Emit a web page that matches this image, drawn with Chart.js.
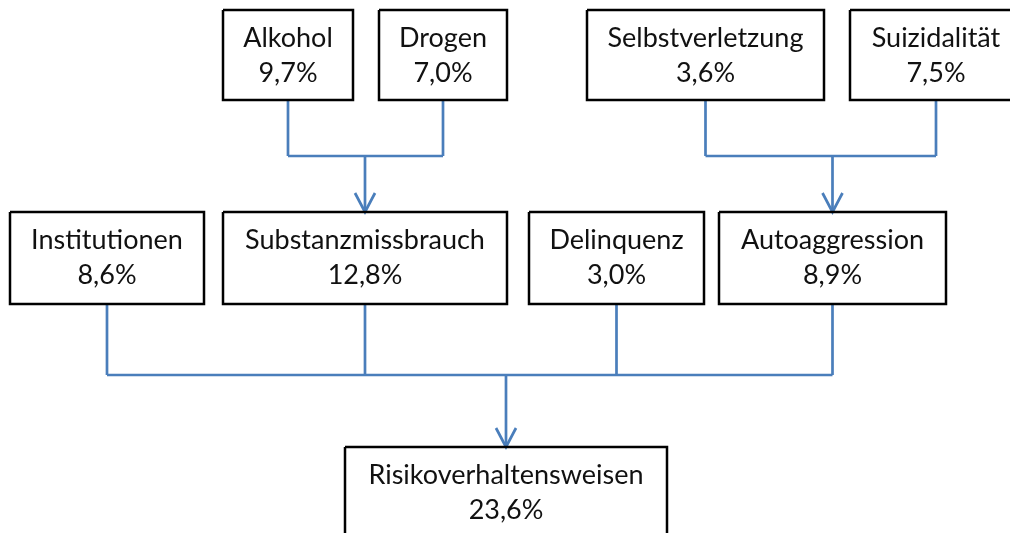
<!DOCTYPE html>
<html><head><meta charset="utf-8">
<script src="https://cdn.jsdelivr.net/npm/chart.js@4/dist/chart.umd.min.js"></script>
<style>html,body{margin:0;padding:0;background:#fff;}canvas{display:block;}</style>
</head><body>
<canvas id="c" width="1010" height="533"></canvas>
<script>
// ---- data ----
const names = ['Alkohol','Drogen','Selbstverletzung','Suizidalität','Institutionen','Substanzmissbrauch','Delinquenz','Autoaggression','Risikoverhaltensweisen'];
const values = [9.7, 7.0, 3.6, 7.5, 8.6, 12.8, 3.0, 8.9, 23.6];
// parent -> child groups (indices into names)
const groupParents = [[0,1],[2,3],[4,5,6,7]];
const groupChild = [5, 7, 8];

// ---- layout (scale units = pixels of the 1010x533 frame) ----
const boxRow = [0,0,0,0,1,1,1,1,2];
const boxLeft = [223,379,587,850,10,223,529,719,345];
const boxRight = [353,507,824,1022,204,507,704,946,667];
const rowTop = [10,212,447];
const rowBottom = [100,304,540];
const groupBusY = [156,156,375];

const BLUE = '#4a7ebb';
const LW = 2.7;
const datasets = [];
names.forEach((n,i)=>{
  const t=rowTop[boxRow[i]], b=rowBottom[boxRow[i]], l=boxLeft[i], r=boxRight[i];
  datasets.push({data:[{x:l,y:t},{x:r,y:t},{x:r,y:b},{x:l,y:b},{x:l,y:t}],
    borderColor:'#000', borderWidth:2.5, showLine:true, pointRadius:0, borderJoinStyle:'miter', tension:0});
});
const cx = i => (boxLeft[i]+boxRight[i])/2;
groupParents.forEach((ps,g)=>{
  const by = groupBusY[g];
  const ch = groupChild[g];
  ps.forEach(p=>{
    datasets.push({data:[{x:cx(p),y:rowBottom[boxRow[p]]},{x:cx(p),y:by}],
      borderColor:BLUE,borderWidth:LW,showLine:true,pointRadius:0});
  });
  const xs = ps.map(cx);
  datasets.push({data:[{x:Math.min(...xs),y:by},{x:Math.max(...xs),y:by}],
    borderColor:BLUE,borderWidth:LW,showLine:true,pointRadius:0});
  const tip = rowTop[boxRow[ch]];
  datasets.push({data:[{x:cx(ch),y:by},{x:cx(ch),y:tip}],
    borderColor:BLUE,borderWidth:LW,showLine:true,pointRadius:0});
  datasets.push({data:[{x:cx(ch)-10,y:tip-19},{x:cx(ch),y:tip},{x:cx(ch)+10,y:tip-19}],
    borderColor:BLUE,borderWidth:LW,showLine:true,pointRadius:0,borderJoinStyle:'miter'});
});

const labelPlugin = {
  id:'boxLabels',
  afterDatasetsDraw(chart){
    const {ctx, scales:{x,y}} = chart;
    ctx.save();
    ctx.fillStyle='#111';
    ctx.textAlign='center';
    ctx.textBaseline='alphabetic';
    ctx.font = '27px Lato, "Open Sans", sans-serif';
    names.forEach((n,i)=>{
      const t=rowTop[boxRow[i]];
      const px = x.getPixelForValue(cx(i));
      ctx.fillText(n, px, y.getPixelForValue(t+37));
      ctx.fillText(values[i].toFixed(1).replace('.',',')+'%', px, y.getPixelForValue(t+72));
    });
    ctx.restore();
  }
};

new Chart(document.getElementById('c'),{
  type:'scatter',
  data:{datasets},
  options:{
    responsive:false, animation:false, devicePixelRatio:1,
    layout:{padding:0},
    plugins:{legend:{display:false},tooltip:{enabled:false}},
    scales:{
      x:{type:'linear',min:0,max:1010,display:false},
      y:{type:'linear',min:0,max:533,reverse:true,display:false}
    }
  },
  plugins:[labelPlugin]
});
</script>
</body></html>
